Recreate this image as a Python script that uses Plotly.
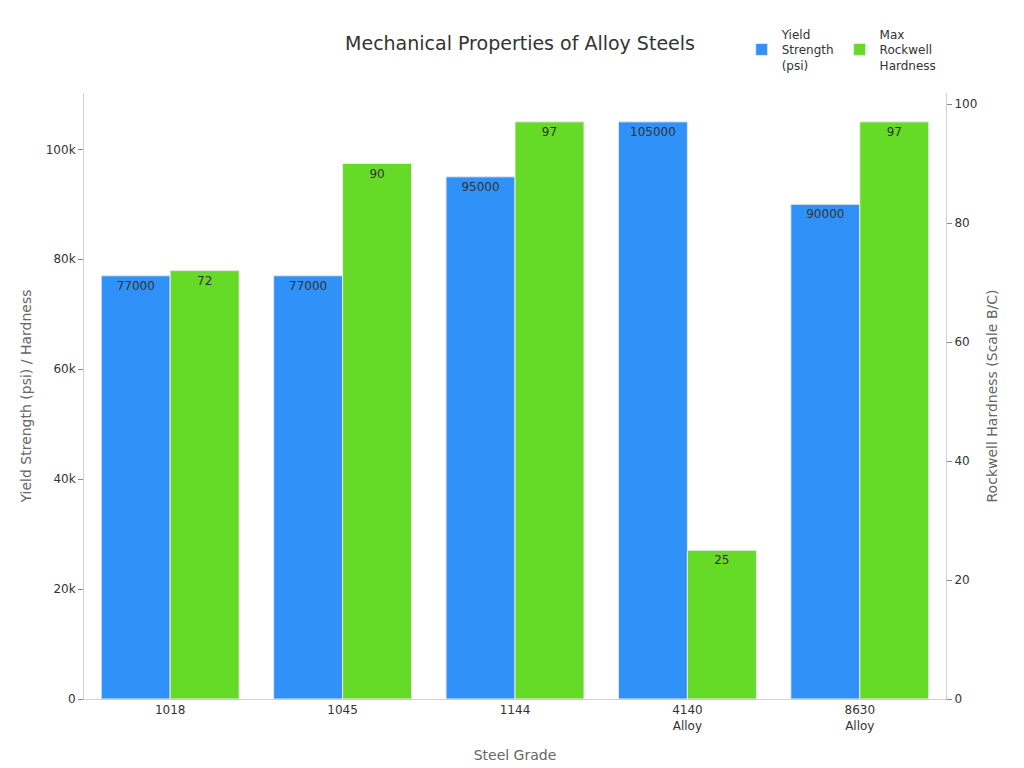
import plotly.graph_objects as go

grades = ["1018", "1045", "1144", "4140<br>Alloy", "8630<br>Alloy"]
yield_psi = [77000, 77000, 95000, 105000, 90000]
hardness = [72, 90, 97, 25, 97]

fig = go.Figure()
fig.add_trace(go.Bar(x=grades, y=yield_psi, name="Yield<br>Strength<br>(psi)",
                     marker=dict(color="#3091f8", line=dict(color="#e8e8e8", width=1)),
                     text=[str(v) for v in yield_psi], textposition="inside",
                     insidetextanchor="end", textfont=dict(color="#333", size=12),
                     offsetgroup="a", yaxis="y"))
fig.add_trace(go.Bar(x=grades, y=hardness, name="Max<br>Rockwell<br>Hardness",
                     marker=dict(color="#66db27", line=dict(color="#e8e8e8", width=1)),
                     text=[str(v) for v in hardness], textposition="inside",
                     insidetextanchor="end", textfont=dict(color="#333", size=12),
                     offsetgroup="b", yaxis="y2"))

axcommon = dict(showgrid=False, showline=True, linecolor="#d0d0d0", ticks="outside",
                tickcolor="#888", ticklen=5, tickfont=dict(size=12, color="#333"),
                title_font=dict(size=14, color="#666"), zeroline=False, automargin=False)
fig.update_layout(
    width=1024, height=768,
    paper_bgcolor="white", plot_bgcolor="white",
    font=dict(family="DejaVu Sans", color="#333"),
    title=dict(text="Mechanical Properties of Alloy Steels", x=0.5, y=0.954,
               xanchor="center", yanchor="middle", font=dict(size=19, color="#333"),
               automargin=False),
    margin=dict(l=76, r=86, t=85, b=77, autoexpand=False),
    barmode="group", bargap=0.2, bargroupgap=0,
    xaxis=dict(title=dict(text="Steel Grade", standoff=18), showline=True, linecolor="#d0d0d0",
               tickfont=dict(size=12, color="#333"), title_font=dict(size=14, color="#666"),
               automargin=False),
    yaxis=dict(title=dict(text="Yield Strength (psi) / Hardness", standoff=10),
               range=[0, 110250], **axcommon),
    yaxis2=dict(title=dict(text="Rockwell Hardness (Scale B/C)", standoff=10),
                range=[0, 101.85], overlaying="y", side="right", **axcommon),
    legend=dict(orientation="h", x=0.995, xanchor="right", yref="container", y=0.985,
                yanchor="top", font=dict(size=12, color="#333")),
    uniformtext=dict(mode="show", minsize=12),
)
fig.write_html("out.html")
